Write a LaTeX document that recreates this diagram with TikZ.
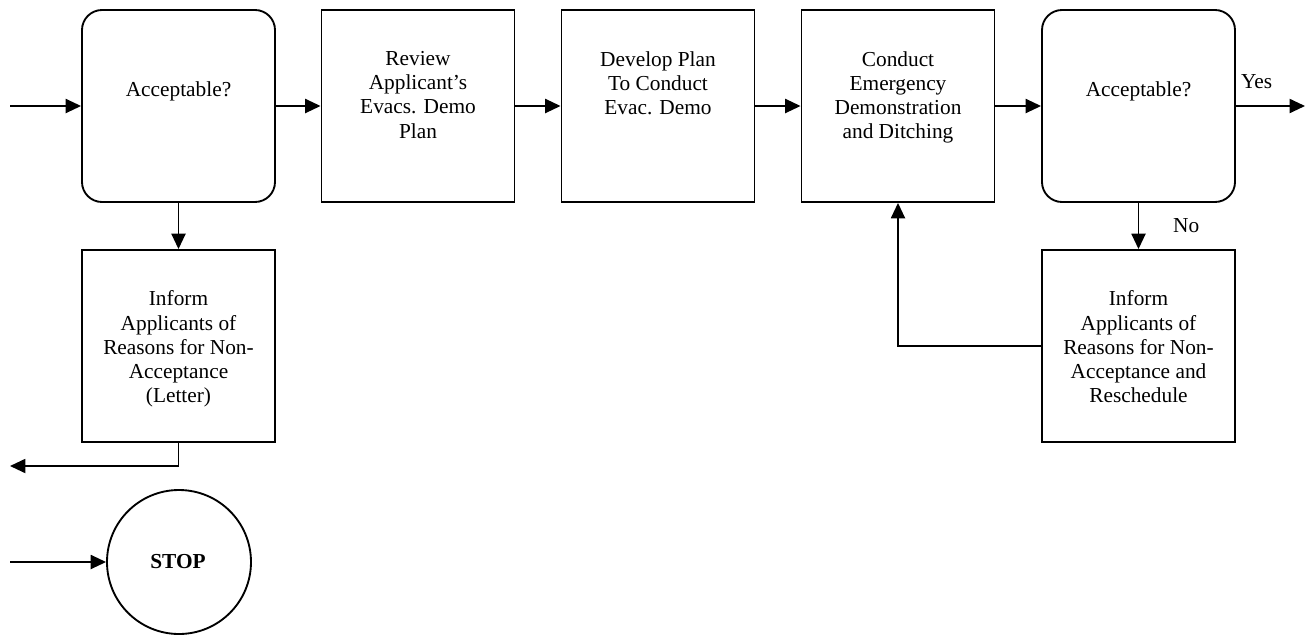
\documentclass[tikz,border=0pt]{standalone}
\usepackage{fontspec}
\setmainfont{Liberation Serif}
\usetikzlibrary{arrows.meta}

\begin{document}
\begin{tikzpicture}[
    x=0.75pt, y=-0.75pt,
    box/.style={rectangle, draw, line width=1.4pt, minimum width=144.75pt, minimum height=144pt, inner sep=0pt},
    decision/.style={box, rounded corners=15pt},
    txt/.style={align=center, anchor=north, inner sep=0pt, font=\fontsize{16}{18.2}\selectfont},
    arr/.style={-{Triangle[length=11.5pt,width=10.5pt]}, line width=1.4pt}
]
\useasboundingbox (0,0) rectangle (1314,636);

% Rangee principale
\node[decision] (acc1) at (178.5,106) {};
\node[box] (review) at (418,106) {};
\node[box] (develop) at (658,106) {};
\node[box] (conduct) at (898,106) {};
\node[decision] (acc2) at (1138.5,106) {};

% Rangee du bas
\node[box] (inform1) at (178.5,346) {};
\node[box] (inform2) at (1138.5,346) {};
\node[circle, draw, line width=1.4pt, minimum size=108pt, inner sep=0pt] (stop) at (179,562) {};

% Textes
\node[txt] (acc1-t) at (178.5,81) {Acceptable?};
\node[txt] (review-t) at (418,51) {Review\\Applicant's\\Evacs. Demo\\Plan};
\node[txt] (develop-t) at (658,51) {Develop Plan\\To Conduct\\Evac. Demo};
\node[txt] (conduct-t) at (898,51) {Conduct\\Emergency\\Demonstration\\and Ditching};
\node[txt] (acc2-t) at (1138.5,81) {Acceptable?};
\node[txt] (inform1-t) at (178.5,290.5) {Inform\\Applicants of\\Reasons for Non-\\Acceptance\\(Letter)};
\node[txt] (inform2-t) at (1138.5,290.5) {Inform\\Applicants of\\Reasons for Non-\\Acceptance and\\Reschedule};
\node[txt, font=\fontsize{16}{18.2}\selectfont\bfseries, anchor=center] (stop-t) at (178,562) {STOP};

% Extremites libres
\coordinate (in1) at (10,106);
\coordinate (yes) at (1305,106);
\coordinate (out1) at (10,466);
\coordinate (in2) at (10,562);

% Connecteurs
\draw[arr] (in1) -- (acc1);
\draw[arr] (acc1) -- (review);
\draw[arr] (review) -- (develop);
\draw[arr] (develop) -- (conduct);
\draw[arr] (conduct) -- (acc2);
\draw[arr] (acc2) -- (yes) node[pos=0.3, above=9pt, font=\fontsize{16}{18.2}\selectfont] (yes-t) {Yes};
\draw[arr] (acc1) -- (inform1);
\draw[arr] (acc2) -- (inform2) node[pos=0.5, right=22pt, font=\fontsize{16}{18.2}\selectfont] (no-t) {No};
\draw[arr] (inform1.south) |- (out1);
\draw[arr] (inform2.west) -| (conduct.south);
\draw[arr] (in2) -- (stop);

\end{tikzpicture}
\end{document}
